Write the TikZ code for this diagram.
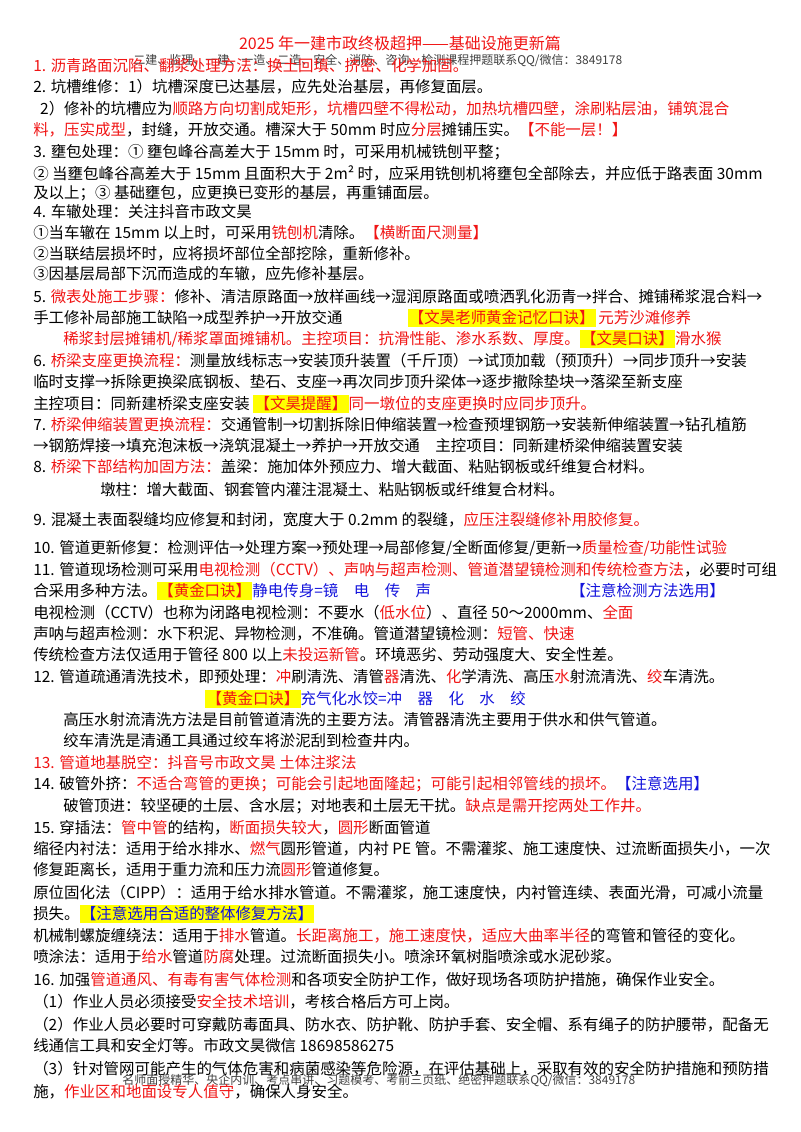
\documentclass[tikz,border=0pt]{standalone}
\usepackage{fontspec}
\usepackage{xcolor}
\setmainfont{Noto Sans CJK SC}
\usetikzlibrary{positioning}
\definecolor{hotred}{RGB}{240,20,20}
\definecolor{inkblue}{RGB}{20,20,220}
\definecolor{marker}{RGB}{255,255,0}
\newcommand{\rd}[1]{\textcolor{hotred}{#1}}
\newcommand{\bl}[1]{\textcolor{inkblue}{#1}}
\newcommand{\hl}[1]{{\setlength{\fboxsep}{1pt}\colorbox{marker}{\textcolor{hotred}{#1}}}}
\tikzset{
  line/.style={anchor=west, inner sep=0pt, font=\fontsize{11.6}{14}\selectfont},
  heading/.style={inner sep=0pt, font=\fontsize{12}{14}\selectfont, text=hotred},
  stamp/.style={anchor=west, inner sep=0pt, font=\fontsize{9}{11}\selectfont, text=black!75}
}
\begin{document}
\begin{tikzpicture}[x=0.75pt, y=-0.75pt]
  \useasboundingbox (0,0) rectangle (800,1132);
  % title and banner
  \node (title) [heading] at (400,43) {2025 年一建市政终极超押——基础设施更新篇};
  \node (banner) [stamp] at (133,60) {二建、监理、一建、一造、二造、安全、消防、咨询、检测课程押题联系QQ/微信：3849178};
  % 1-4 road repair
  \node (l01) [line, text=hotred] at (33,66) {1. 沥青路面沉陷、翻浆处理方法：换土回填、挤密、化学加固。};
  \node (l02) [line] at (33,87) {2. 坑槽维修：1）坑槽深度已达基层，应先处治基层，再修复面层。};
  \node (l03) [line] at (33,109) {\ \ 2）修补的坑槽应为\rd{顺路方向切割成矩形，坑槽四壁不得松动，加热坑槽四壁，涂刷粘层油，铺筑混合}};
  \node (l04) [line] at (33,130) {\rd{料，压实成型}，封缝，开放交通。槽深大于 50mm 时应\rd{分层}摊铺压实。\rd{【不能一层！】}};
  \node (l05) [line] at (33,152) {3. 壅包处理：① 壅包峰谷高差大于 15mm 时，可采用机械铣刨平整；};
  \node (l06) [line] at (33,173) {② 当壅包峰谷高差大于 15mm 且面积大于 2m² 时，应采用铣刨机将壅包全部除去，并应低于路表面 30mm};
  \node (l07) [line] at (33,193) {及以上；③ 基础壅包，应更换已变形的基层，再重铺面层。};
  \node (l08) [line] at (33,212) {4. 车辙处理：关注抖音市政文昊};
  \node (l09) [line] at (33,233) {①当车辙在 15mm 以上时，可采用\rd{铣刨机}清除。\rd{【横断面尺测量】}};
  \node (l10) [line] at (33,254) {②当联结层损坏时，应将损坏部位全部挖除，重新修补。};
  \node (l11) [line] at (33,274) {③因基层局部下沉而造成的车辙，应先修补基层。};
  % 5-8 surfacing and bridges
  \node (l12) [line] at (33,297) {5. \rd{微表处施工步骤：}修补、清洁原路面→放样画线→湿润原路面或喷洒乳化沥青→拌合、摊铺稀浆混合料→};
  \node (l13) [line] at (33,318) {手工修补局部施工缺陷→成型养护→开放交通\hspace{4.2em}\hl{【文昊老师黄金记忆口诀】}\rd{\,元芳沙滩修养}};
  \node (l14) [line] at (63,339) {\rd{稀浆封层摊铺机/稀浆罩面摊铺机。主控项目：抗滑性能、渗水系数、厚度。}\hl{【文昊口诀】}\rd{滑水猴}};
  \node (l15) [line] at (33,361) {6. \rd{桥梁支座更换流程：}测量放线标志→安装顶升装置（千斤顶）→试顶加载（预顶升）→同步顶升→安装};
  \node (l16) [line] at (33,382) {临时支撑→拆除更换梁底钢板、垫石、支座→再次同步顶升梁体→逐步撤除垫块→落梁至新支座};
  \node (l17) [line] at (33,404) {主控项目：同新建桥梁支座安装 \hl{【文昊提醒】}\rd{同一墩位的支座更换时应同步顶升。}};
  \node (l18) [line] at (33,425) {7. \rd{桥梁伸缩装置更换流程：}交通管制→切割拆除旧伸缩装置→检查预埋钢筋→安装新伸缩装置→钻孔植筋};
  \node (l19) [line] at (33,446) {→钢筋焊接→填充泡沫板→浇筑混凝土→养护→开放交通\quad 主控项目：同新建桥梁伸缩装置安装};
  \node (l20) [line] at (33,467) {8. \rd{桥梁下部结构加固方法：}盖梁：施加体外预应力、增大截面、粘贴钢板或纤维复合材料。};
  \node (l21) [line] at (100,490) {墩柱：增大截面、钢套管内灌注混凝土、粘贴钢板或纤维复合材料。};
  % 9-12 pipelines
  \node (l22) [line] at (33,520) {9. 混凝土表面裂缝均应修复和封闭，宽度大于 0.2mm 的裂缝，\rd{应压注裂缝修补用胶修复。}};
  \node (l23) [line] at (33,548) {10. 管道更新修复：检测评估→处理方案→预处理→局部修复/全断面修复/更新→\rd{质量检查/功能性试验}};
  \node (l24) [line] at (33,570) {11. 管道现场检测可采用\rd{电视检测（CCTV）、声呐与超声检测、管道潜望镜检测和传统检查方法}，必要时可组};
  \node (l25) [line] at (33,591) {合采用多种方法。\hl{【黄金口诀】}\bl{静电传身=镜\quad 电\quad 传\quad 声}};
  \node (l25b) [line, text=inkblue] at (570,591) {【注意检测方法选用】};
  \node (l26) [line] at (33,613) {电视检测（CCTV）也称为闭路电视检测：不要水（\rd{低水位}）、直径 50～2000mm、\rd{全面}};
  \node (l27) [line] at (33,634) {声呐与超声检测：水下积泥、异物检测，不准确。管道潜望镜检测：\rd{短管、快速}};
  \node (l28) [line] at (33,655) {传统检查方法仅适用于管径 800 以上\rd{未投运新管}。环境恶劣、劳动强度大、安全性差。};
  \node (l29) [line] at (33,677) {12. 管道疏通清洗技术，即预处理：\rd{冲}刷清洗、清管\rd{器}清洗、\rd{化}学清洗、高压\rd{水}射流清洗、\rd{绞}车清洗。};
  \node (l30) [line] at (205,699) {\hl{【黄金口诀】}\bl{充气化水饺=冲\quad 器\quad 化\quad 水\quad 绞}};
  \node (l31) [line] at (63,720) {高压水射流清洗方法是目前管道清洗的主要方法。清管器清洗主要用于供水和供气管道。};
  \node (l32) [line] at (63,741) {绞车清洗是清通工具通过绞车将淤泥刮到检查井内。};
  % 13-15 trenchless
  \node (l33) [line, text=hotred] at (33,763) {13. 管道地基脱空：抖音号市政文昊 土体注浆法};
  \node (l34) [line] at (33,784) {14. 破管外挤：\rd{不适合弯管的更换；可能会引起地面隆起；可能引起相邻管线的损坏。}\bl{【注意选用】}};
  \node (l35) [line] at (63,806) {破管顶进：较坚硬的土层、含水层；对地表和土层无干扰。\rd{缺点是需开挖两处工作井。}};
  \node (l36) [line] at (33,828) {15. 穿插法：\rd{管中管}的结构，\rd{断面损失较大}，\rd{圆形}断面管道};
  \node (l37) [line] at (33,849) {缩径内衬法：适用于给水排水、\rd{燃气}圆形管道，内衬 PE 管。不需灌浆、施工速度快、过流断面损失小，一次};
  \node (l38) [line] at (33,870) {修复距离长，适用于重力流和压力流\rd{圆形}管道修复。};
  \node (l39) [line] at (33,893) {原位固化法（CIPP）：适用于给水排水管道。不需灌浆，施工速度快，内衬管连续、表面光滑，可减小流量};
  \node (l40) [line] at (33,914) {损失。{\setlength{\fboxsep}{1pt}\colorbox{marker}{\bl{【注意选用合适的整体修复方法】}}}};
  \node (l41) [line] at (33,936) {机械制螺旋缠绕法：适用于\rd{排水}管道。\rd{长距离施工，施工速度快，适应大曲率半径}的弯管和管径的变化。};
  \node (l42) [line] at (33,957) {喷涂法：适用于\rd{给水}管道\rd{防腐}处理。过流断面损失小。喷涂环氧树脂喷涂或水泥砂浆。};
  % 16 safety
  \node (l43) [line] at (33,980) {16. 加强\rd{管道通风、有毒有害气体检测}和各项安全防护工作，做好现场各项防护措施，确保作业安全。};
  \node (l44) [line] at (33,1002) {（1）作业人员必须接受\rd{安全技术培训}，考核合格后方可上岗。};
  \node (l45) [line] at (33,1025) {（2）作业人员必要时可穿戴防毒面具、防水衣、防护靴、防护手套、安全帽、系有绳子的防护腰带，配备无};
  \node (l46) [line] at (33,1046) {线通信工具和安全灯等。市政文昊微信 18698586275};
  \node (l47) [line] at (33,1069) {（3）针对管网可能产生的气体危害和病菌感染等危险源，在评估基础上，采取有效的安全防护措施和预防措};
  \node (footer) [stamp] at (122,1080) {名师面授精华、央企内训、考点串讲、习题模考、考前三页纸、绝密押题联系QQ/微信：3849178};
  \node (l48) [line] at (33,1092) {施，\rd{作业区和地面设专人值守}，确保人身安全。};
\end{tikzpicture}
\end{document}
